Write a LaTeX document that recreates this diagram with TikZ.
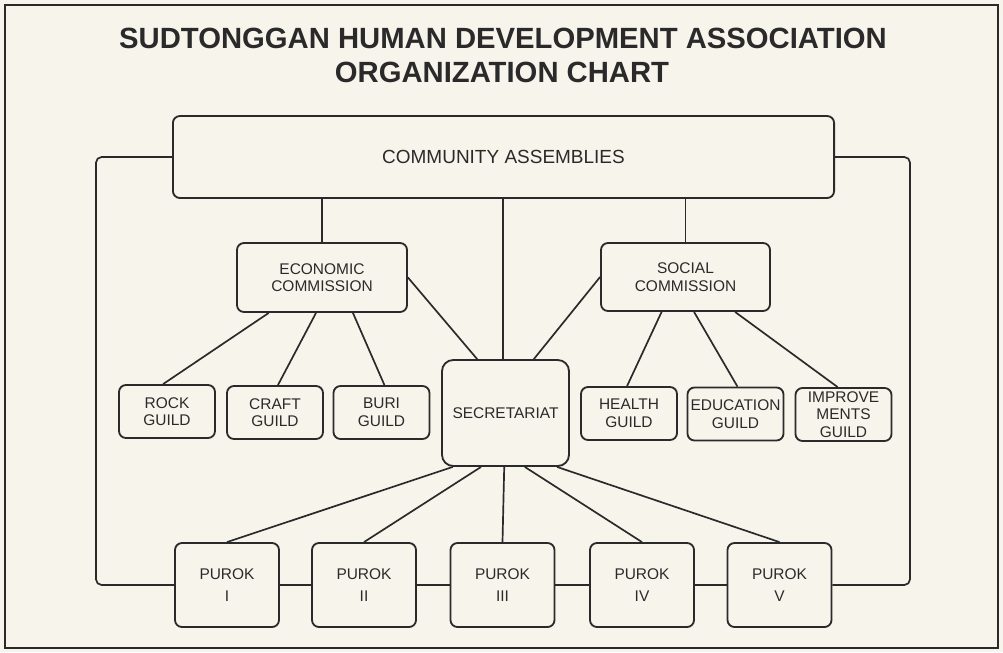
\documentclass[tikz,border=0pt]{standalone}
\usepackage{fontspec}
\setmainfont{Liberation Sans}
\usepackage{xcolor}
\usepackage{tikz}
\usetikzlibrary{positioning,calc}
\definecolor{PaperCream}{HTML}{F7F4EC}
\definecolor{InkDark}{HTML}{2A2A2A}

\tikzset{
  orgbox/.style={draw=InkDark, line width=1.3pt, rounded corners=5pt, align=center,
    inner sep=1pt, text=InkDark, font=\fontsize{11}{12.5}\selectfont},
  link/.style={draw=InkDark, line width=1.2pt}
}

\begin{document}
\begin{tikzpicture}[x=0.025cm, y=-0.025cm]
  \fill[PaperCream] (0,0) rectangle (1003,652);
  \draw[InkDark, line width=1.6pt] (5,5) rectangle (998,648);

  \node[text=InkDark, font=\fontsize{20.8}{24}\selectfont\bfseries] (title) at (503,38)
    {SUDTONGGAN HUMAN DEVELOPMENT ASSOCIATION};
  \node[text=InkDark, font=\fontsize{20.8}{24}\selectfont\bfseries] (subtitle) at (502,72)
    {ORGANIZATION CHART};

  \node[orgbox, minimum width=16.525cm, minimum height=2.05cm,
    font=\fontsize{13.5}{16}\selectfont] (ca) at (503.5,157) {COMMUNITY ASSEMBLIES};
  \node[orgbox, minimum width=4.25cm, minimum height=1.725cm] (econ) at (322,277.5)
    {ECONOMIC\\COMMISSION};
  \node[orgbox, minimum width=4.225cm, minimum height=1.7cm] (social) at (685.5,277)
    {SOCIAL\\COMMISSION};
  \node[orgbox, rounded corners=8pt, minimum width=3.175cm, minimum height=2.65cm] (sec)
    at (505.5,413) {SECRETARIAT};

  \foreach \g/\t/\x/\y in {
    rock/ROCK\\GUILD/167/411.5,
    craft/CRAFT\\GUILD/275/412.5,
    buri/BURI\\GUILD/381.5/412.5,
    health/HEALTH\\GUILD/629/413.5,
    edu/EDUCATION\\GUILD/735.5/414,
    impr/IMPROVE\\MENTS\\GUILD/843.5/414.5%
  }{
    \node[orgbox, minimum width=2.4cm, minimum height=1.325cm] (\g) at (\x,\y) {\t};
  }

  \foreach \i/\r/\x in {1/I/227, 2/II/364, 3/III/502.5, 4/IV/642, 5/V/779.5}{
    \node[orgbox, minimum width=2.6cm, minimum height=2.1cm] (p\i) at (\x,585)
      {PUROK\\[3pt]\r};
  }

  \draw[link] (econ.north) -- (econ.north |- ca.south);
  \draw[link] (social.north) -- (social.north |- ca.south);
  \coordinate (secTop) at ($(sec.north west)!0.48!(sec.north east)$);
  \draw[link] (secTop) -- (secTop |- ca.south);
  \draw[link] (econ.east) -- ($(sec.north west)!0.28!(sec.north east)$);
  \draw[link] (social.west) -- ($(sec.north west)!0.72!(sec.north east)$);

  \foreach \g/\a/\b in {rock/0.19/0.46, craft/0.465/0.53, buri/0.68/0.53}{
    \draw[link] ($(econ.south west)!\a!(econ.south east)$)
      -- ($(\g.north west)!\b!(\g.north east)$);
  }
  \foreach \g/\a/\b in {health/0.36/0.48, edu/0.55/0.52, impr/0.79/0.44}{
    \draw[link] ($(social.south west)!\a!(social.south east)$)
      -- ($(\g.north west)!\b!(\g.north east)$);
  }

  \foreach \i/\a in {1/0.09, 2/0.31, 3/0.49, 4/0.65, 5/0.9}{
    \draw[link] ($(sec.south west)!\a!(sec.south east)$) -- (p\i.north);
  }

  \foreach \i/\j in {1/2, 2/3, 3/4, 4/5}{
    \draw[link] (p\i) -- (p\j);
  }

  \coordinate (loopL) at (96,585);
  \coordinate (loopR) at (910,585);
  \draw[link, rounded corners=4pt] (ca.west) -| (loopL) -- (p1.west);
  \draw[link, rounded corners=4pt] (ca.east) -| (loopR) -- (p5.east);
\end{tikzpicture}
\end{document}
